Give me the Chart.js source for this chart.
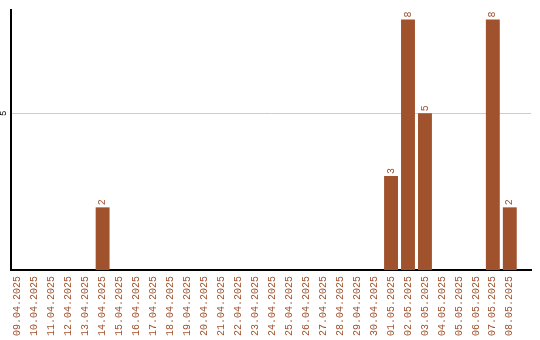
<!DOCTYPE html>
<html>
<head>
<meta charset="utf-8">
<script src="https://cdn.jsdelivr.net/npm/chart.js@4"></script>
<style>
  html, body { margin: 0; padding: 0; background: #fff; }
  #wrap { width: 540px; height: 340px; }
</style>
</head>
<body>
<div id="wrap"><canvas id="chart" width="540" height="340"></canvas></div>
<script>
const days = [
  '09.04.2025', '10.04.2025', '11.04.2025', '12.04.2025', '13.04.2025', '14.04.2025',
  '15.04.2025', '16.04.2025', '17.04.2025', '18.04.2025', '19.04.2025', '20.04.2025',
  '21.04.2025', '22.04.2025', '23.04.2025', '24.04.2025', '25.04.2025', '26.04.2025',
  '27.04.2025', '28.04.2025', '29.04.2025', '30.04.2025', '01.05.2025', '02.05.2025',
  '03.05.2025', '04.05.2025', '05.05.2025', '06.05.2025', '07.05.2025', '08.05.2025'
];
const counts = [
  0, 0, 0, 0, 0, 2,
  0, 0, 0, 0, 0, 0,
  0, 0, 0, 0, 0, 0,
  0, 0, 0, 0, 3, 8,
  5, 0, 0, 0, 8, 2
];
const yTicks = [5];

const brown = '#a0522d';
const monoFamily = '"Liberation Mono", "DejaVu Sans Mono", monospace';

// value labels above the bars, turned on their side
const barLabels = {
  id: 'barLabels',
  afterDatasetsDraw(chart) {
    const ctx = chart.ctx;
    const meta = chart.getDatasetMeta(0);
    ctx.save();
    ctx.fillStyle = brown;
    ctx.font = '10px ' + monoFamily;
    ctx.textAlign = 'left';
    ctx.textBaseline = 'middle';
    meta.data.forEach((bar, i) => {
      if (!counts[i]) return;
      ctx.save();
      ctx.translate(bar.x, bar.y - 2);
      ctx.rotate(-Math.PI / 2);
      ctx.fillText(String(counts[i]), 0, 0);
      ctx.restore();
    });
    ctx.restore();
  }
};

// the y tick labels are turned as well
const yLabels = {
  id: 'yLabels',
  afterDraw(chart) {
    const ctx = chart.ctx;
    const y = chart.scales.y;
    ctx.save();
    ctx.fillStyle = '#000';
    ctx.font = '9px ' + monoFamily;
    ctx.textAlign = 'center';
    ctx.textBaseline = 'middle';
    yTicks.forEach(v => {
      ctx.save();
      ctx.translate(4, y.getPixelForValue(v));
      ctx.rotate(-Math.PI / 2);
      ctx.fillText(String(v), 0, 0);
      ctx.restore();
    });
    ctx.restore();
  }
};

new Chart(document.getElementById('chart').getContext('2d'), {
  type: 'bar',
  data: {
    datasets: [{
      data: counts.map((v, i) => ({ x: i, y: v })),
      backgroundColor: brown,
      categoryPercentage: 1,
      barPercentage: 0.82
    }]
  },
  options: {
    responsive: false,
    animation: false,
    layout: { padding: { top: 10, right: 9, left: 0, bottom: 0 } },
    plugins: { legend: { display: false }, tooltip: { enabled: false } },
    scales: {
      x: {
        type: 'linear',
        offset: false,
        min: -0.4,
        max: 30.25,
        afterBuildTicks(scale) { scale.ticks = days.map((d, i) => ({ value: i })); },
        grid: { display: false, drawTicks: false, tickLength: 0 },
        border: { display: true, color: '#000', width: 2 },
        ticks: {
          color: brown,
          font: { family: monoFamily, size: 10 },
          minRotation: 90,
          maxRotation: 90,
          autoSkip: false,
          padding: 6,
          callback: v => days[v]
        },
        afterFit(scale) { scale.height = 70; }
      },
      y: {
        min: 0,
        max: 8.3,
        afterBuildTicks(scale) { scale.ticks = yTicks.map(v => ({ value: v })); },
        ticks: { display: false },
        grid: { color: '#cccccc', drawTicks: false },
        border: { display: true, color: '#000', width: 2 },
        afterFit(scale) { scale.width = 11; }
      }
    }
  },
  plugins: [barLabels, yLabels]
});
</script>
</body>
</html>
